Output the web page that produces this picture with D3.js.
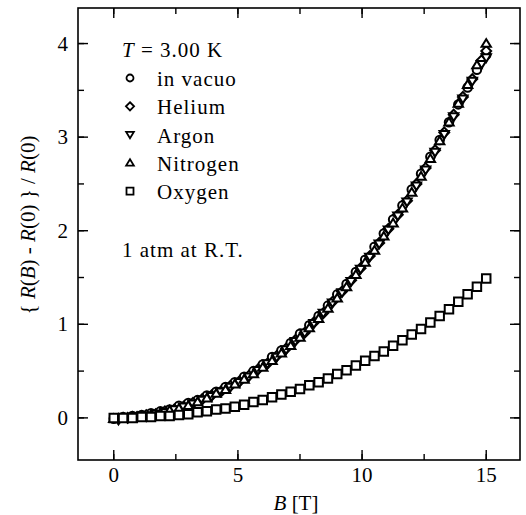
<!DOCTYPE html>
<html>
<head>
<meta charset="utf-8">
<script src="https://cdn.jsdelivr.net/npm/d3@7"></script>
<style>
  body { margin: 0; background: #fff; }
</style>
</head>
<body>
<div class="chart"></div>
<script>
// field values (T), two sampling grids
var fieldA = [0, 0.375, 0.75, 1.125, 1.5, 1.875, 2.25, 2.625, 3.0, 3.375, 3.75, 4.125, 4.5, 4.875,
  5.25, 5.625, 6.0, 6.375, 6.75, 7.125, 7.5, 7.875, 8.25, 8.625, 9.0, 9.375, 9.75, 10.125, 10.5,
  10.875, 11.25, 11.625, 12.0, 12.375, 12.75, 13.125, 13.5, 13.875, 14.25, 14.625, 15.0];
var fieldB = [0.19, 0.56, 0.94, 1.31, 1.69, 2.06, 2.44, 2.81, 3.19, 3.56, 3.94, 4.31, 4.69, 5.06,
  5.44, 5.81, 6.19, 6.56, 6.94, 7.31, 7.69, 8.06, 8.44, 8.81, 9.19, 9.56, 9.94, 10.31, 10.69,
  11.06, 11.44, 11.81, 12.19, 12.56, 12.94, 13.31, 13.69, 14.06, 14.44, 14.81, 15.0];

// magnetoresistance {R(B)-R(0)}/R(0)
var vacuo = [-0.01, 0.01, 0.02, 0.03, 0.05, 0.07, 0.09, 0.13, 0.16, 0.19, 0.24, 0.28, 0.33, 0.38,
  0.44, 0.50, 0.57, 0.65, 0.72, 0.80, 0.90, 0.99, 1.09, 1.20, 1.32, 1.43, 1.56, 1.69, 1.83,
  1.97, 2.12, 2.27, 2.44, 2.61, 2.79, 2.97, 3.16, 3.35, 3.53, 3.72, 3.88];
var helium = [-0.01, 0.00, 0.01, 0.03, 0.04, 0.07, 0.09, 0.12, 0.16, 0.20, 0.24, 0.28, 0.34, 0.39,
  0.45, 0.52, 0.58, 0.66, 0.74, 0.83, 0.91, 1.02, 1.12, 1.24, 1.35, 1.47, 1.60, 1.73, 1.87,
  2.02, 2.17, 2.32, 2.50, 2.67, 2.86, 3.05, 3.24, 3.43, 3.62, 3.82, 3.92];
var argon = [-0.02, 0.00, 0.01, 0.02, 0.04, 0.06, 0.09, 0.12, 0.15, 0.19, 0.23, 0.28, 0.33, 0.38,
  0.44, 0.51, 0.58, 0.65, 0.73, 0.82, 0.91, 1.01, 1.12, 1.23, 1.34, 1.46, 1.59, 1.72, 1.86,
  2.01, 2.16, 2.31, 2.48, 2.65, 2.84, 3.03, 3.22, 3.41, 3.60, 3.78, 3.85];
var nitrogen = [-0.01, 0.00, 0.01, 0.02, 0.03, 0.05, 0.08, 0.10, 0.13, 0.17, 0.21, 0.26, 0.30, 0.36,
  0.41, 0.47, 0.54, 0.61, 0.69, 0.77, 0.86, 0.96, 1.06, 1.17, 1.28, 1.40, 1.53, 1.66, 1.79,
  1.94, 2.08, 2.24, 2.41, 2.58, 2.77, 2.96, 3.16, 3.36, 3.56, 3.77, 4.00];
var oxygen = [0.00, 0.00, 0.00, 0.01, 0.01, 0.02, 0.02, 0.03, 0.04, 0.06, 0.07, 0.09, 0.10, 0.12,
  0.14, 0.17, 0.19, 0.22, 0.25, 0.28, 0.31, 0.35, 0.38, 0.42, 0.47, 0.51, 0.56, 0.61, 0.66,
  0.71, 0.77, 0.83, 0.89, 0.95, 1.02, 1.09, 1.16, 1.24, 1.32, 1.40, 1.49];

var seriesNames = ["in vacuo", "Helium", "Argon", "Nitrogen", "Oxygen"];
var xTicks = [0, 5, 10, 15];
var yTicks = [0, 1, 2, 3, 4];

var svgWidth = 526;
var svgHeight = 515;
var margin = { top: 8, right: 6, bottom: 55, left: 78 };
var width = svgWidth - margin.left - margin.right;
var height = svgHeight - margin.top - margin.bottom;
var serif = "'Liberation Serif', 'Times New Roman', Times, serif";

var svg = d3.select(".chart")
  .append("svg")
  .attr("width", svgWidth)
  .attr("height", svgHeight)
  .attr("font-family", serif)
  .attr("font-size", 21);

var chartGroup = svg.append("g")
  .attr("transform", `translate(${margin.left}, ${margin.top})`);

var xScale = d3.scaleLinear().domain([-1.44, 16.36]).range([0, width]);
var yScale = d3.scaleLinear().domain([-0.45, 4.38]).range([height, 0]);

// symbol paths
function markerPath(name, s) {
  if (name === "in vacuo") return d3.symbol(d3.symbolCircle, s * s * Math.PI / 4)();
  if (name === "Helium") {
    var h = s * 0.58;
    return `M0,${-h}L${h},0L0,${h}L${-h},0Z`;
  }
  if (name === "Argon") {
    var a = s * 0.55;
    return `M${-a},${-a * 0.7}L${a},${-a * 0.7}L0,${a * 0.95}Z`;
  }
  if (name === "Nitrogen") {
    var b = s * 0.55;
    return `M${-b},${b * 0.7}L${b},${b * 0.7}L0,${-b * 0.95}Z`;
  }
  var q = s / 2;
  return `M${-q},${-q}H${q}V${q}H${-q}Z`;
}

var series = [
  { name: "in vacuo", x: fieldA, y: vacuo },
  { name: "Helium", x: fieldB, y: helium },
  { name: "Argon", x: fieldB, y: argon },
  { name: "Nitrogen", x: fieldA, y: nitrogen },
  { name: "Oxygen", x: fieldA, y: oxygen }
];

series.forEach(function(s) {
  var pts = s.x.map((b, i) => ({ b: b, r: s.y[i] }));
  chartGroup.append("g").selectAll("path")
    .data(pts)
    .enter()
    .append("path")
    .attr("transform", d => `translate(${xScale(d.b)}, ${yScale(d.r)})`)
    .attr("d", markerPath(s.name, 8.5))
    .attr("fill", "#fff")
    .attr("stroke", "#000")
    .attr("stroke-width", 2);
});

// inward ticks on all four sides
var xMinor = d3.range(0, 16.5, 2.5);
var yMinor = d3.range(0, 4.5, 0.5);

function tickLines(vals, scale, len, side) {
  var g = chartGroup.append("g").attr("stroke", "#000").attr("stroke-width", 1.4);
  vals.forEach(function(v) {
    var p = scale(v);
    if (side === "bottom") g.append("line").attr("x1", p).attr("x2", p).attr("y1", height).attr("y2", height - len);
    if (side === "top") g.append("line").attr("x1", p).attr("x2", p).attr("y1", 0).attr("y2", len);
    if (side === "left") g.append("line").attr("y1", p).attr("y2", p).attr("x1", 0).attr("x2", len);
    if (side === "right") g.append("line").attr("y1", p).attr("y2", p).attr("x1", width).attr("x2", width - len);
  });
}
tickLines(xMinor, xScale, 6, "bottom");
tickLines(xMinor, xScale, 6, "top");
tickLines(yMinor, yScale, 6, "left");
tickLines(yMinor, yScale, 6, "right");
tickLines(xTicks, xScale, 10, "bottom");
tickLines(xTicks, xScale, 10, "top");
tickLines(yTicks, yScale, 10, "left");
tickLines(yTicks, yScale, 10, "right");

chartGroup.append("rect")
  .attr("width", width)
  .attr("height", height)
  .attr("fill", "none")
  .attr("stroke", "#000")
  .attr("stroke-width", 1.6);

// tick labels
chartGroup.selectAll(".xlab")
  .data(xTicks)
  .enter()
  .append("text")
  .attr("x", d => xScale(d))
  .attr("y", height + 22)
  .attr("text-anchor", "middle")
  .text(d => d);

chartGroup.selectAll(".ylab")
  .data(yTicks)
  .enter()
  .append("text")
  .attr("x", -10)
  .attr("y", d => yScale(d) + 7)
  .attr("text-anchor", "end")
  .text(d => d);

// axis titles
var xTitle = chartGroup.append("text")
  .attr("x", 218)
  .attr("y", height + 50)
  .attr("text-anchor", "middle");
xTitle.append("tspan").attr("font-style", "italic").text("B");
xTitle.append("tspan").text(" [T]");

var yTitle = svg.append("text")
  .attr("transform", `translate(35, 225) rotate(-90)`)
  .attr("text-anchor", "middle");
[["{ ", 0], ["R", 1], ["(", 0], ["B", 1], [") - ", 0], ["R", 1], ["(0) } / ", 0], ["R", 1], ["(0)", 0]]
  .forEach(function(p) {
    yTitle.append("tspan").attr("font-style", p[1] ? "italic" : "normal").text(p[0]);
  });

// legend
var tLabel = svg.append("text")
  .attr("x", 122)
  .attr("y", 57)
  .attr("letter-spacing", 1);
tLabel.append("tspan").attr("font-style", "italic").text("T");
tLabel.append("tspan").text(" = 3.00 K");

var legend = svg.append("g");
seriesNames.forEach(function(name, i) {
  var yb = 86 + i * 28.3;
  legend.append("path")
    .attr("transform", `translate(130, ${yb - 8})`)
    .attr("d", markerPath(name, 7))
    .attr("fill", "#fff")
    .attr("stroke", "#000")
    .attr("stroke-width", 1.8);
  legend.append("text")
    .attr("x", 157)
    .attr("y", yb)
    .attr("letter-spacing", 1)
    .text(name);
});

svg.append("text")
  .attr("x", 122)
  .attr("y", 257)
  .attr("letter-spacing", 1)
  .text("1 atm at R.T.");
</script>
</body>
</html>
